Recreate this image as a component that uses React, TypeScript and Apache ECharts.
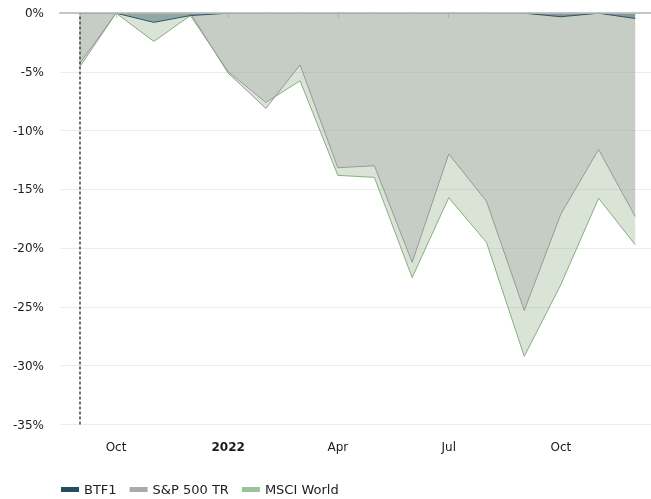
import React, { useEffect, useRef } from "react";
import * as echarts from "echarts";

const dates = [
  "2021-09-01", "2021-10-01", "2021-11-01", "2021-12-01",
  "2022-01-01", "2022-02-01", "2022-03-01", "2022-04-01",
  "2022-05-01", "2022-06-01", "2022-07-01", "2022-08-01",
  "2022-09-01", "2022-10-01", "2022-11-01", "2022-12-01",
];
const btf1 = [0, 0, -0.78, -0.2, 0, 0, 0, 0, 0, 0, 0, 0, 0, -0.3, 0, -0.45];
const sp500 = [-4.6, 0, 0, 0, -5.1, -8.1, -4.4, -13.15, -12.98, -21.2, -11.98, -16.0, -25.3, -17.1, -11.6, -17.3];
const msci = [-4.3, 0, -2.4, -0.2, -4.97, -7.6, -5.75, -13.8, -13.97, -22.5, -15.7, -19.5, -29.2, -23.1, -15.75, -19.7];
const tickDates = ["2021-10-01", "2022-01-01", "2022-04-01", "2022-07-01", "2022-10-01"];
const monthNames = ["Jan", "Feb", "Mar", "Apr", "May", "Jun", "Jul", "Aug", "Sep", "Oct", "Nov", "Dec"];
const axisMin = "2021-08-16";
const axisMax = "2022-12-14";
const startMarker = "2021-09-01";
const seriesNames = ["BTF1", "S&P 500 TR", "MSCI World"];

const ts = (d: string) => new Date(d + "T00:00:00Z").getTime();
const FONT = "DejaVu Sans";

export default function App() {
  const ref = useRef<HTMLDivElement>(null);
  useEffect(() => {
    if (!ref.current) return;
    const chart = echarts.init(ref.current, null, { renderer: "svg" });
    const mk = (vals: number[]) => dates.map((d, i) => [ts(d), vals[i]]);
    chart.setOption({
      animation: false,
      grid: { left: 60, right: 0, top: 13.2, bottom: 74.5, outerBoundsMode: "none" },
      legend: {
        data: seriesNames,
        left: 61,
        top: 483,
        padding: 0,
        itemWidth: 18,
        itemHeight: 5,
        itemGap: 13,
        icon: "rect",
        textStyle: { fontFamily: FONT, fontSize: 13, color: "#222" },
      },
      xAxis: {
        type: "value",
        min: ts(axisMin),
        max: ts(axisMax),
        axisLine: { lineStyle: { color: "#c6c6c6", width: 2 } },
        axisTick: {
          show: true,
          length: 5,
          lineStyle: { color: "#c6c6c6" },
          customValues: tickDates.map(ts),
        },
        splitLine: { show: false },
        axisLabel: {
          customValues: tickDates.map(ts),
          margin: 16,
          fontFamily: FONT,
          fontSize: 12,
          color: "#1a1a1a",
          formatter: (v: number) => {
            const d = new Date(v);
            const m = d.getUTCMonth();
            if (m === 0) return "{y|" + d.getUTCFullYear() + "}";
            return monthNames[m];
          },
          rich: { y: { fontWeight: "bold", fontFamily: FONT, fontSize: 12, color: "#1a1a1a" } },
        },
      },
      yAxis: {
        type: "value",
        min: -35,
        max: 0,
        interval: 5,
        axisLine: { show: false },
        axisTick: { show: false },
        splitLine: { lineStyle: { color: "#ececec", width: 1 } },
        axisLabel: {
          formatter: "{value}%",
          margin: 16,
          fontFamily: FONT,
          fontSize: 12,
          color: "#1a1a1a",
        },
      },
      series: [
        {
          name: "MSCI World",
          type: "line",
          data: mk(msci),
          symbol: "none",
          z: 2,
          itemStyle: { color: "#9dc199" },
          lineStyle: { color: "#86ad80", width: 1 },
          areaStyle: { color: "#8cae85", opacity: 0.33 },
        },
        {
          name: "S&P 500 TR",
          type: "line",
          data: mk(sp500),
          symbol: "none",
          z: 3,
          itemStyle: { color: "#aaaaaa" },
          lineStyle: { color: "#999999", width: 1 },
          areaStyle: { color: "#999999", opacity: 0.3 },
        },
        {
          name: "BTF1",
          type: "line",
          data: mk(btf1),
          symbol: "none",
          z: 4,
          itemStyle: { color: "#264d5e" },
          lineStyle: { color: "#2b5566", width: 1 },
          areaStyle: { color: "#244b5c", opacity: 0.4 },
          markLine: {
            silent: true,
            symbol: ["none", "none"],
            label: { show: false },
            animation: false,
            data: [
              { xAxis: ts(startMarker), lineStyle: { color: "#444", type: [3, 2], width: 1.5 } },
              { yAxis: 0, lineStyle: { color: "#c4c4c4", type: "solid", width: 1.5 } },
            ],
          },
        },
      ],
    });
    return () => chart.dispose();
  }, []);
  return (
    <div
      ref={ref}
      style={{ position: "fixed", left: 0, top: 0, width: 651, height: 499 }}
    />
  );
}
